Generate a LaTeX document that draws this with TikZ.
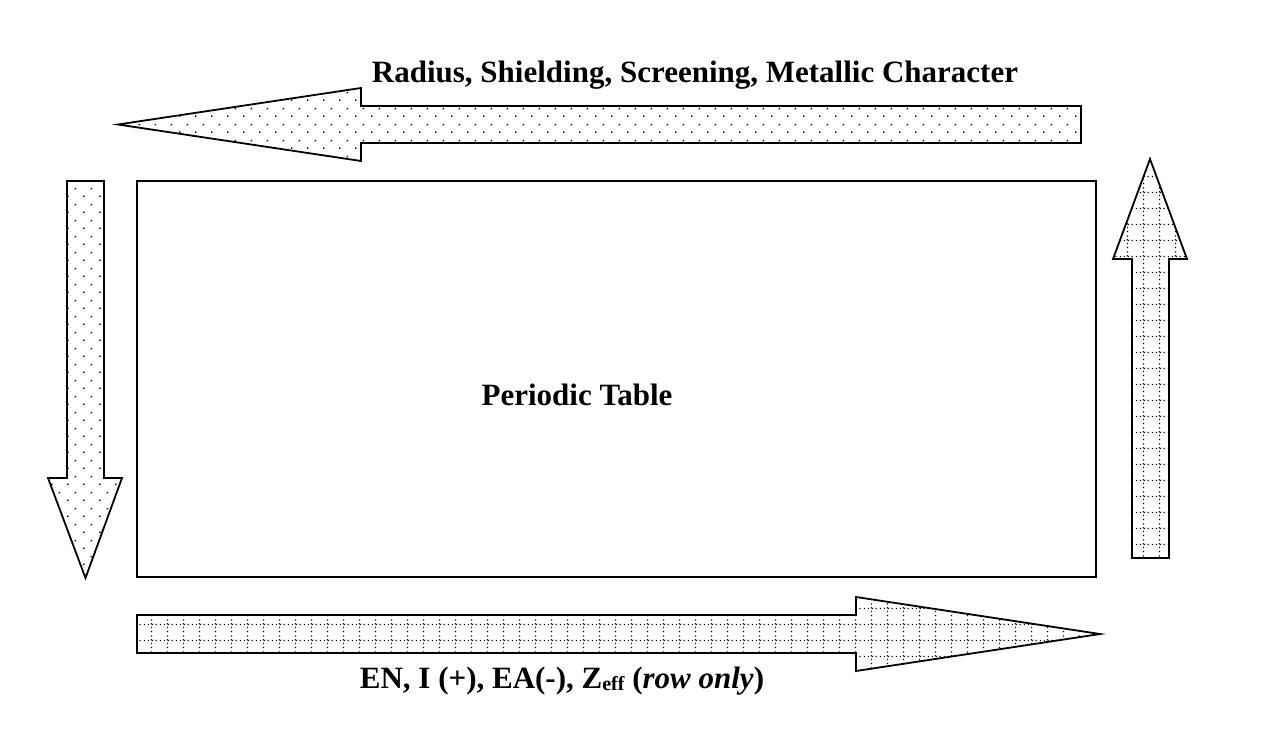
\documentclass[tikz,border=0pt]{standalone}
\usepackage{fontspec}
\setmainfont{Liberation Serif}
\usetikzlibrary{patterns.meta}

% fill patterns of the block arrows
\tikzdeclarepattern{
    name=sparsedots,
    type=uncolored,
    bounding box={(0pt,0pt) and (16pt,16pt)},
    tile size={(16pt,16pt)},
    code={
        \fill (3.25pt,3.25pt) rectangle (4.75pt,4.75pt);
        \fill (11.25pt,11.25pt) rectangle (12.75pt,12.75pt);
    }
}
\tikzdeclarepattern{
    name=dottedgrid,
    type=uncolored,
    bounding box={(0pt,0pt) and (16pt,16pt)},
    tile size={(16pt,16pt)},
    code={
        \draw[line width=1.3pt, dash pattern=on 1.3pt off 2.7pt] (0pt,8pt) -- (16pt,8pt);
        \draw[line width=1.3pt, dash pattern=on 1.3pt off 2.7pt] (8pt,0pt) -- (8pt,16pt);
    }
}

\tikzset{
    blockarrow/.style={
           draw=black,
           line width=1.8pt,
           line join=miter,
           },
    dotsarrow/.style={blockarrow, pattern={sparsedots}},
    gridarrow/.style={blockarrow, pattern={dottedgrid}},
    tablebox/.style={
           draw=black,
           line width=1.8pt,
           },
    label/.style={
           font=\bfseries\fontsize{31}{36}\selectfont,
           inner sep=0pt,
           anchor=base,
           },
}

\begin{document}
\begin{tikzpicture}[x=1pt, y=-1pt]
    \useasboundingbox (0,0) rectangle (1280,744);

    % the table itself
    \draw[tablebox] (137,181) rectangle (1096,577);
    \node[label] (table) at (577,405) {Periodic Table};

    % top: pointing left along a row
    \draw[dotsarrow] (1081,106) -- (361,106) -- (361,88) -- (118,124.5)
        -- (361,161) -- (361,143) -- (1081,143) -- cycle;
    \node[label] (radius) at (695,82) {Radius, Shielding, Screening, Metallic Character};

    % left: pointing down a group
    \draw[dotsarrow] (67,181) -- (67,478) -- (48,478) -- (85.5,578)
        -- (122,478) -- (104,478) -- (104,181) -- cycle;

    % right: pointing up a group
    \draw[gridarrow] (1132,558) -- (1132,259) -- (1113,259) -- (1150,159)
        -- (1187,259) -- (1169,259) -- (1169,558) -- cycle;

    % bottom: pointing right along a row
    \draw[gridarrow] (137,615) -- (856,615) -- (856,597) -- (1100,634)
        -- (856,671) -- (856,653) -- (137,653) -- cycle;
    \node[label] (energy) at (562,688)
        {EN, I (+), EA(-), Z{\fontsize{20}{20}\selectfont\raisebox{-2pt}{eff}} (\textit{row only})};
\end{tikzpicture}
\end{document}
